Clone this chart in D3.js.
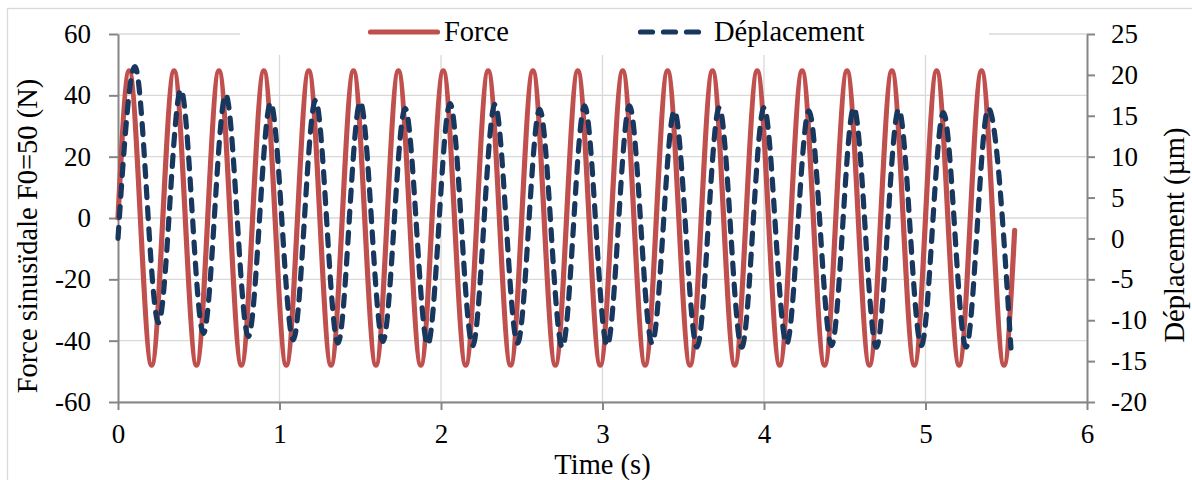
<!DOCTYPE html>
<html>
<head>
<meta charset="utf-8">
<script src="https://cdn.jsdelivr.net/npm/d3@7"></script>
<style>
  html, body { margin: 0; padding: 0; background: #fff; }
  svg { display: block; }
  text { font-family: "Times New Roman", "Liberation Serif", serif; fill: #000; }
</style>
</head>
<body>
<svg id="chart" width="1192" height="480"></svg>
<script>
// ---- data ----
const forceTime = [0, 0.069, 0.208, 0.347, 0.486, 0.625, 0.764, 0.903, 1.042, 1.181, 1.319,
  1.458, 1.597, 1.736, 1.875, 2.014, 2.153, 2.292, 2.431, 2.569, 2.708,
  2.847, 2.986, 3.125, 3.264, 3.403, 3.542, 3.681, 3.819, 3.958, 4.097,
  4.236, 4.375, 4.514, 4.653, 4.792, 4.931, 5.069, 5.208, 5.347, 5.486, 5.552];
const forceValue = [0, 48, -48, 48, -48, 48, -48, 48, -48, 48, -48,
  48, -48, 48, -48, 48, -48, 48, -48, 48, -48,
  48, -48, 48, -48, 48, -48, 48, -48, 48, -48,
  48, -48, 48, -48, 48, -48, 48, -48, 48, -48, -4];

const dispTime = [0, 0.105, 0.251, 0.389, 0.529, 0.667, 0.807, 0.945, 1.085, 1.223, 1.362,
  1.500, 1.640, 1.778, 1.918, 2.056, 2.196, 2.334, 2.474, 2.611, 2.751,
  2.889, 3.029, 3.167, 3.307, 3.445, 3.585, 3.723, 3.862, 4.000, 4.140,
  4.278, 4.418, 4.556, 4.696, 4.834, 4.974, 5.111, 5.251, 5.389, 5.529];
const dispValue = [0, 21.0, -10.3, 18.2, -11.6, 17.6, -12.0, 16.6, -12.4, 16.9, -12.8,
  16.7, -12.6, 15.9, -13.0, 16.5, -13.1, 16.4, -12.8, 15.8, -13.3,
  16.2, -13.1, 16.2, -12.8, 15.6, -13.3, 16.0, -13.3, 16.0, -12.9,
  15.6, -13.1, 16.0, -13.3, 15.8, -13.1, 15.4, -13.3, 15.9, -13.4];

const xTicks = [0, 1, 2, 3, 4, 5, 6];
const leftTicks = [-60, -40, -20, 0, 20, 40, 60];
const rightTicks = [-20, -15, -10, -5, 0, 5, 10, 15, 20, 25];

const seriesNames = ["Force", "Déplacement"];
const xTitle = "Time (s)";
const leftTitle = "Force sinusïdale F0=50 (N)";
const rightTitle = "Déplacement (µm)";

// ---- layout ----
const W = 1192, H = 480;
const plot = { left: 118, right: 1087, top: 34, bottom: 402 };
const red = "#C0504D", blue = "#17375E";
const grid = "#d9d9d9", axisCol = "#868686";
const tickFont = 27, titleFont = 28.5;
const fmt = d => String(d); // plain hyphen minus, integers

const svg = d3.select("#chart");

// outer chart border
svg.append("rect").attr("x", 7.5).attr("y", 8.5).attr("width", W + 20).attr("height", H + 20)
  .attr("fill", "#fff").attr("stroke", grid).attr("stroke-width", 1.3);

const x = d3.scaleLinear().domain([0, 6]).range([plot.left, plot.right]);
const yL = d3.scaleLinear().domain([-60, 60]).range([plot.bottom, plot.top]);
const yR = d3.scaleLinear().domain([-20, 25]).range([plot.bottom, plot.top]);

// gridlines
const g = svg.append("g");
g.selectAll("line.h").data(leftTicks).join("line")
  .attr("x1", plot.left).attr("x2", plot.right)
  .attr("y1", d => yL(d)).attr("y2", d => yL(d))
  .attr("stroke", grid).attr("stroke-width", 1.3);
g.selectAll("line.v").data(xTicks.filter(d => d > 0 && d < 6)).join("line")
  .attr("x1", d => x(d)).attr("x2", d => x(d))
  .attr("y1", plot.top).attr("y2", plot.bottom)
  .attr("stroke", grid).attr("stroke-width", 1.3);

// legend background (covers gridlines at the top)
svg.append("rect").attr("x", 240).attr("y", 12).attr("width", 749).attr("height", 43)
  .attr("fill", "#fff");

// axes
function styleAxis(sel) {
  sel.select(".domain").attr("stroke", axisCol).attr("stroke-width", 2);
  sel.selectAll(".tick line").attr("stroke", axisCol).attr("stroke-width", 2);
  sel.selectAll(".tick text").style("font-size", tickFont + "px")
    .style("font-family", '"Times New Roman", "Liberation Serif", serif').attr("fill", "#000");
}
svg.append("g").attr("transform", `translate(${plot.left},0)`)
  .call(d3.axisLeft(yL).tickValues(leftTicks).tickFormat(fmt).tickSize(9).tickSizeOuter(0).tickPadding(18))
  .call(styleAxis);
svg.append("g").attr("transform", `translate(${plot.right},0)`)
  .call(d3.axisRight(yR).tickValues(rightTicks).tickFormat(fmt).tickSize(8).tickSizeOuter(0).tickPadding(16))
  .call(styleAxis);
svg.append("g").attr("transform", `translate(0,${plot.bottom})`)
  .call(d3.axisBottom(x).tickValues(xTicks).tickFormat(fmt).tickSize(8).tickSizeOuter(0).tickPadding(14))
  .call(styleAxis);

// series
const forceData = forceTime.map((t, i) => [t, forceValue[i]]);
const dispData = dispTime.map((t, i) => [t, dispValue[i]]);

const lineF = d3.line().x(d => x(d[0])).y(d => yL(d[1])).curve(d3.curveMonotoneX);
const lineD = d3.line().x(d => x(d[0])).y(d => yR(d[1])).curve(d3.curveMonotoneX);

svg.append("path").datum(forceData).attr("d", lineF)
  .attr("fill", "none").attr("stroke", red).attr("stroke-width", 5.2)
  .attr("stroke-linecap", "round").attr("stroke-linejoin", "round");
svg.append("path").datum(dispData).attr("d", lineD)
  .attr("fill", "none").attr("stroke", blue).attr("stroke-width", 5.2)
  .attr("stroke-dasharray", "11 10")
  .attr("stroke-linecap", "round").attr("stroke-linejoin", "round");

// axis titles
svg.append("text").attr("transform", `translate(37,236) rotate(-90)`)
  .attr("text-anchor", "middle").style("font-size", titleFont + "px").text(leftTitle);
svg.append("text").attr("transform", `translate(1184,235) rotate(-90)`)
  .attr("text-anchor", "middle").style("font-size", titleFont + "px").text(rightTitle);
svg.append("text").attr("x", x(3)).attr("y", 474)
  .attr("text-anchor", "middle").style("font-size", titleFont + "px").text(xTitle);

// legend
const lg = svg.append("g");
lg.append("line").attr("x1", 370.5).attr("x2", 437.5).attr("y1", 32).attr("y2", 32)
  .attr("stroke", red).attr("stroke-width", 5.2).attr("stroke-linecap", "round");
lg.append("text").attr("x", 444).attr("y", 41).style("font-size", titleFont + "px").text(seriesNames[0]);
lg.append("line").attr("x1", 640.5).attr("x2", 700.5).attr("y1", 32).attr("y2", 32)
  .attr("stroke", blue).attr("stroke-width", 5.2).attr("stroke-dasharray", "12 11")
  .attr("stroke-linecap", "round");
lg.append("text").attr("x", 714).attr("y", 41).style("font-size", titleFont + "px").text(seriesNames[1]);
</script>
</body>
</html>
